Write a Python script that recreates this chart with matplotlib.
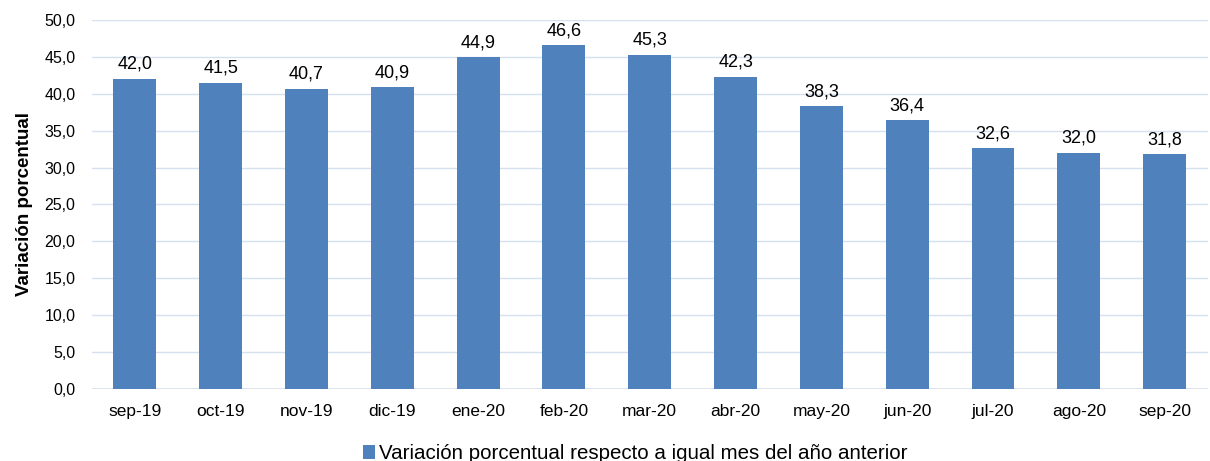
import matplotlib
matplotlib.use("Agg")
import matplotlib.pyplot as plt
import numpy as np

meses = ["sep-19", "oct-19", "nov-19", "dic-19", "ene-20", "feb-20", "mar-20",
         "abr-20", "may-20", "jun-20", "jul-20", "ago-20", "sep-20"]
variacion = [42.0, 41.5, 40.7, 40.9, 44.9, 46.6, 45.3, 42.3, 38.3, 36.4, 32.6, 32.0, 31.8]
serie = "Variación porcentual respecto a igual mes del año anterior"

plt.rcParams['font.family'] = ['Liberation Sans', 'DejaVu Sans']

fig = plt.figure(figsize=(12.1, 4.61), dpi=100)
ax = fig.add_axes([0.076, 0.156, 0.922, 0.801])

x = np.arange(len(meses))
bars = ax.bar(x, variacion, width=0.5, color="#4F81BD", zorder=3, label=serie)
for xi, v in zip(x, variacion):
    ax.text(xi, v + 0.8, f"{v:.1f}".replace(".", ","), ha="center", va="bottom",
            fontsize=13, color="#000000")

ax.set_ylim(0, 50)
ax.set_xlim(-0.5, len(meses) - 0.5)
ax.set_yticks(np.arange(0, 51, 5))
ax.set_yticklabels([f"{t:.1f}".replace(".", ",") for t in np.arange(0, 51, 5)])
ax.set_xticks(x)
ax.set_xticklabels(meses)
ax.tick_params(axis="both", length=0, colors="#000000")
ax.tick_params(axis="x", pad=11, labelsize=12.5)
ax.tick_params(axis="y", pad=12, labelsize=11.5)
ax.grid(axis="y", color="#D6E1F0", linewidth=1, zorder=0)
for s in ax.spines.values():
    s.set_visible(False)
ax.axhline(0, color="#D6E1F0", linewidth=1.2, zorder=2)
ax.set_ylabel("Variación porcentual", fontsize=13.5, fontweight="bold", labelpad=8)

fig.legend(handles=[bars], labels=[serie], loc="lower center", bbox_to_anchor=(0.525, -0.045),
           frameon=False, fontsize=14.8, handlelength=0.6, handleheight=0.6,
           handletextpad=0.2)

fig.savefig("out.png", dpi=100)
